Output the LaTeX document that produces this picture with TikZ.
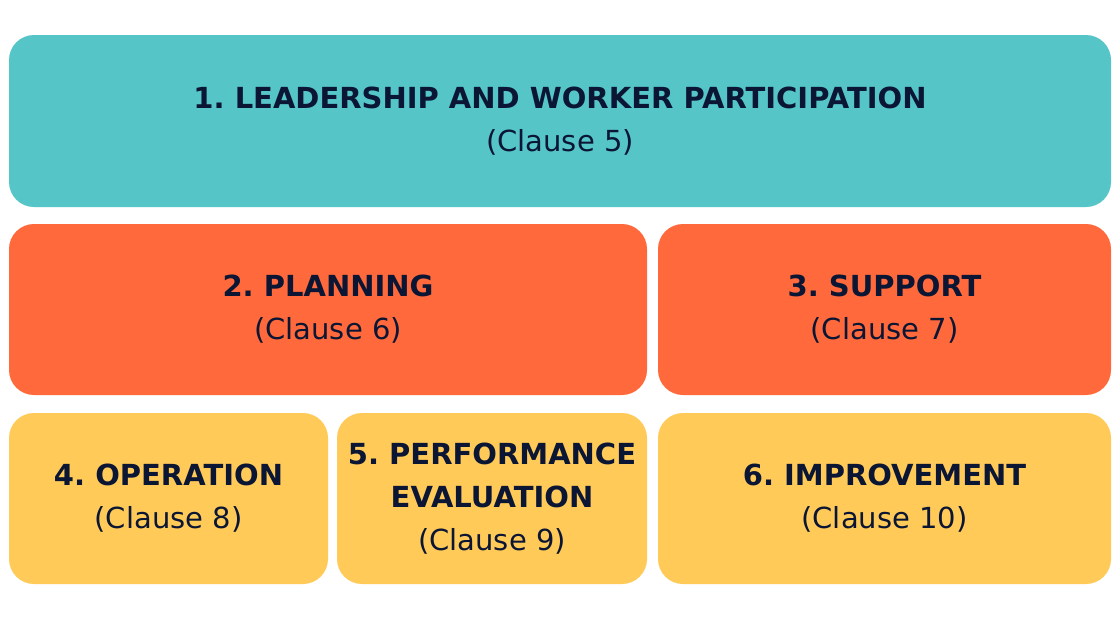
\documentclass[tikz,border=0pt]{standalone}
\usepackage{fontspec}
\setmainfont{DejaVu Sans}
\usepackage{tikz}
\definecolor{tealbox}{HTML}{55C5C8}
\definecolor{orangebox}{HTML}{FF693B}
\definecolor{yellowbox}{HTML}{FFCA58}
\definecolor{navytext}{HTML}{0B1634}
\frenchspacing
\begin{document}
\begin{tikzpicture}[x=1pt,y=-1pt,
    clausebox/.style={rounded corners=25pt, inner sep=0pt, align=center,
        text=navytext, font=\fontsize{29}{43}\selectfont}]
    \useasboundingbox (0,0) rectangle (1120,630);
    \fill[white] (0,0) rectangle (1120,630);
    \node[clausebox, fill=tealbox, minimum width=1102pt, minimum height=172pt] (lead) at (560,121)
        {{\bfseries 1. LEADERSHIP AND WORKER PARTICIPATION}\\(Clause 5)};
    \node[clausebox, fill=orangebox, minimum width=638pt, minimum height=171pt] (plan) at (328,309.5)
        {{\bfseries 2. PLANNING}\\(Clause 6)};
    \node[clausebox, fill=orangebox, minimum width=453pt, minimum height=171pt] (supp) at (884.5,309.5)
        {{\bfseries 3. SUPPORT}\\(Clause 7)};
    \node[clausebox, fill=yellowbox, minimum width=319pt, minimum height=171pt] (oper) at (168.5,498.5)
        {{\bfseries 4. OPERATION}\\(Clause 8)};
    \node[clausebox, fill=yellowbox, minimum width=310pt, minimum height=171pt] (perf) at (492,498.5)
        {{\bfseries 5. PERFORMANCE}\\{\bfseries EVALUATION}\\(Clause 9)};
    \node[clausebox, fill=yellowbox, minimum width=453pt, minimum height=171pt] (impr) at (884.5,498.5)
        {{\bfseries 6. IMPROVEMENT}\\(Clause 10)};
\end{tikzpicture}
\end{document}
